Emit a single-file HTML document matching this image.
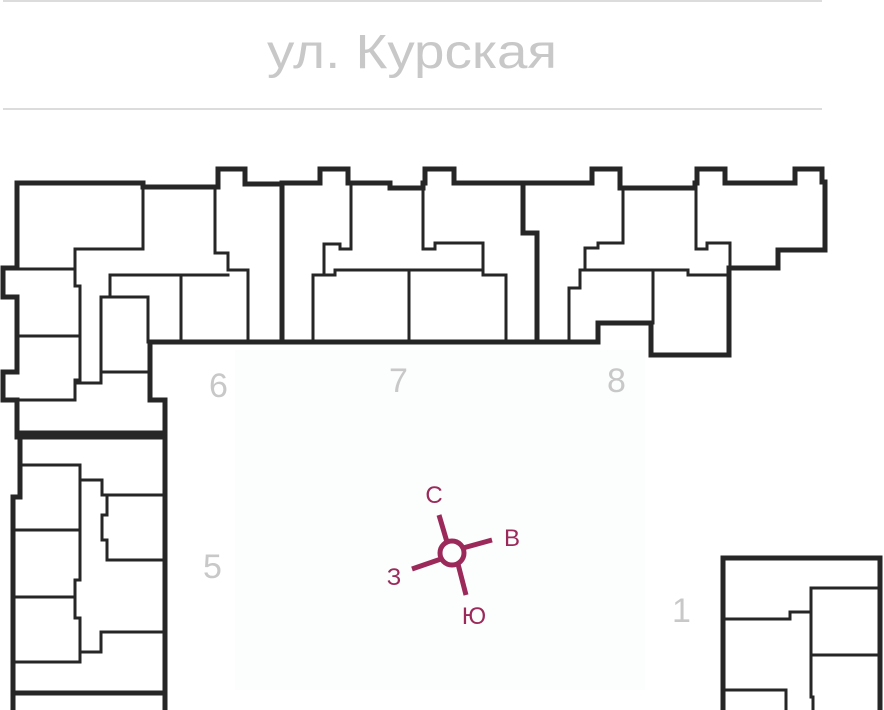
<!DOCTYPE html>
<html><head><meta charset="utf-8"><style>
html,body{margin:0;padding:0;background:#fff;}
svg{display:block;}
</style></head><body>
<svg width="884" height="710" viewBox="0 0 884 710" xmlns="http://www.w3.org/2000/svg">
<rect x="0" y="0" width="884" height="710" fill="#fff"/>
<rect x="235" y="350" width="410" height="340" fill="#fcfdfd"/>
<line x1="3" y1="1" x2="822" y2="1" stroke="#dcdcdc" stroke-width="2"/>
<line x1="3" y1="109" x2="822" y2="109" stroke="#dcdcdc" stroke-width="2"/>
<text x="412" y="68" font-family="Liberation Sans, sans-serif" font-size="48" fill="#c8c8c8" text-anchor="middle" textLength="290" lengthAdjust="spacingAndGlyphs">ул. Курская</text>

<g fill="none" stroke="#262626" stroke-linejoin="miter" stroke-linecap="square">
<g stroke-width="5">
<path d="M150,342 L282,342 L282,184 L245,184 L245,169 L218,169 L218,187 L143,187 L143,183 L17,183 L17,268 L3,268 L3,297 L17,297 L17,372 L3,372 L3,400 L17,400 L17,437 L165,437 L165,400 L150,400 Z"/>
<path d="M282,342 L598,342"/>
<path d="M282,183 L320,183 L320,169 L348,169 L348,183 L390,183 L390,188 L423,188 L423,183 L425,183 L425,169 L454,169 L454,183 L592,183 L592,169 L620,169 L620,188 L695,188 L695,183 L697,183 L697,169 L725,169 L725,183 L795,183 L795,169 L822,169 L822,182 L825,182 L825,250 L778,250 L778,268 L729,268 L729,355 L651,355 L651,323 L598,323 L598,342"/>
<path d="M523,183 L523,233 L537,233 L537,342"/>
<path d="M17,433 L165,433 L165,712"/>
<path d="M20,433 L20,497 L13,497 L13,712"/>
<path d="M13,693 L165,693"/>
<path d="M723,712 L723,558 L880,558 L880,712"/>
</g>
<g stroke-width="3">
<path d="M143,187 L143,249 L75,249 L75,286 L80,286 L80,380 L75,380 L75,400"/>
<path d="M17,269 L75,269"/>
<path d="M17,336 L80,336"/>
<path d="M17,400 L75,400"/>
<path d="M215,187 L215,253 L228,253 L228,270 L248,270 L248,342"/>
<path d="M228,275 L110,275 L110,297"/>
<path d="M148,342 L148,297 L101,297 L101,383 L77,383"/>
<path d="M101,372 L148,372"/>
<path d="M181,275 L181,342"/>
<path d="M351,183 L351,249 L340,249 L340,244 L324,244 L324,275 L313,275 L313,342"/>
<path d="M324,275 L335,275 L335,270 L483,270"/>
<path d="M409,270 L409,342"/>
<path d="M423,188 L423,249 L435,249 L435,243 L483,243 L483,275 L506,275 L506,342"/>
<path d="M623,188 L623,243 L598,243 L598,248 L585,248 L585,270 L580,270 L580,288 L569,288 L569,342"/>
<path d="M585,270 L688,270 L688,275 L729,275"/>
<path d="M653,270 L653,323"/>
<path d="M696,188 L696,249 L707,249 L707,243 L730,243 L730,268"/>
<path d="M20,465 L80,465 L80,580 L75,580 L75,618 L80,618 L80,662 L13,662"/>
<path d="M13,530 L80,530"/>
<path d="M13,597 L75,597"/>
<path d="M80,480 L102,480 L102,495 L165,495"/>
<path d="M102,495 L107,495 L107,515 L102,515 L102,540 L107,540 L107,560 L165,560"/>
<path d="M165,632 L101,632 L101,652 L80,652"/>
<path d="M723,619 L790,619 L790,612 L811,612"/>
<path d="M880,588 L811,588 L811,697 L813,697 L813,710"/>
<path d="M811,655 L880,655"/>
<path d="M723,690 L786,690 L786,710"/>
</g>
</g>

<g font-family="Liberation Sans, sans-serif" font-size="34" fill="#c8c8c8">
<text x="209" y="397">6</text>
<text x="389" y="392">7</text>
<text x="607" y="392">8</text>
<text x="203" y="578">5</text>
<text x="672" y="622">1</text>
</g>

<g stroke="#9b2a5a" stroke-width="5" fill="none">
<circle cx="452" cy="553" r="12"/>
<line x1="439" y1="515" x2="447" y2="542"/>
<line x1="463" y1="548" x2="492" y2="540"/>
<line x1="412" y1="569" x2="441" y2="559"/>
<line x1="458" y1="564" x2="466" y2="595"/>
</g>
<g font-family="Liberation Sans, sans-serif" font-size="24" fill="#9b2a5a" text-anchor="middle">
<text x="434" y="503">С</text>
<text x="512" y="546">В</text>
<text x="394" y="585">З</text>
<text x="474" y="624">Ю</text>
</g>
</svg>
</body></html>
